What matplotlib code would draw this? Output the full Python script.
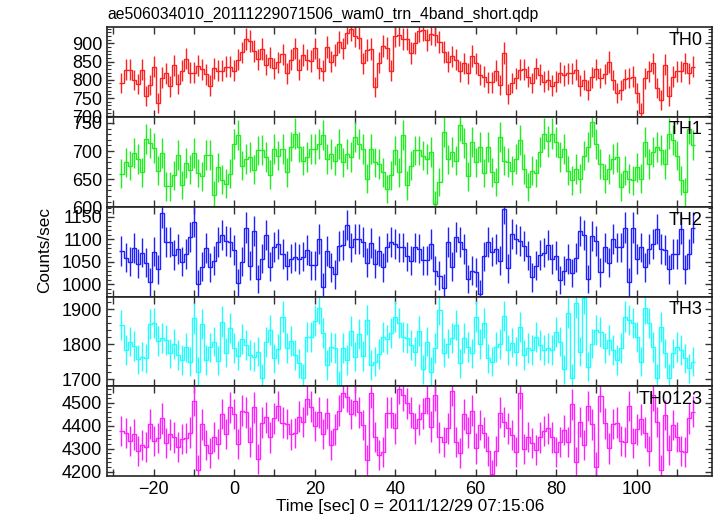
import numpy as np
import matplotlib
matplotlib.use("Agg")
import matplotlib.pyplot as plt
from matplotlib.ticker import MultipleLocator, AutoMinorLocator, FuncFormatter

plt.rcParams['font.family'] = ['Liberation Sans', 'DejaVu Sans']

# 1 s bins, centres from -28 to 114
t = np.arange(-28, 115)

th0 = [791, 827, 827, 800, 788, 827, 755, 786, 836, 736, 806, 818, 782, 840, 788, 825, 858, 820, 820, 839,
       829, 815, 784, 832, 825, 825, 836, 836, 825, 855, 875, 911, 907, 879, 856, 884, 841, 861, 832, 848,
       870, 818, 855, 886, 827, 868, 855, 852, 886, 832, 825, 891, 850, 868, 905, 886, 929, 938, 920, 914,
       845, 882, 884, 780, 847, 893, 888, 825, 920, 923, 911, 911, 873, 900, 934, 936, 909, 927, 923, 905,
       877, 850, 864, 855, 823, 845, 818, 865, 845, 814, 809, 793, 793, 825, 786, 873, 762, 791, 804, 827,
       829, 809, 791, 832, 814, 795, 800, 784, 795, 820, 813, 818, 818, 827, 784, 800, 773, 807, 829, 805,
       816, 849, 800, 764, 773, 802, 805, 809, 764, 709, 804, 823, 845, 777, 745, 841, 755, 809, 823, 823,
       845, 818, 836]

th1 = [660, 680, 674, 696, 686, 662, 722, 714, 706, 665, 696, 637, 637, 657, 693, 640, 679, 667, 696, 661,
       655, 693, 693, 621, 671, 649, 642, 660, 713, 728, 674, 686, 689, 667, 701, 702, 689, 658, 704, 692,
       704, 662, 708, 731, 707, 683, 689, 704, 704, 712, 729, 686, 695, 683, 713, 680, 695, 689, 725, 713,
       704, 651, 704, 680, 677, 662, 633, 657, 701, 662, 728, 639, 674, 701, 701, 692, 686, 698, 605, 645,
       734, 685, 698, 683, 746, 714, 655, 716, 680, 707, 661, 707, 662, 645, 725, 683, 680, 665, 686, 719,
       668, 636, 665, 661, 698, 731, 717, 731, 716, 689, 704, 665, 648, 668, 651, 692, 707, 752, 713, 677,
       651, 668, 686, 689, 636, 665, 651, 648, 671, 651, 716, 677, 698, 707, 702, 677, 731, 719, 692, 648,
       627, 740, 710]

th2 = [1074, 1059, 1050, 1080, 1045, 1070, 1048, 1005, 1072, 1033, 1159, 1094, 1093, 1065, 1078, 1050, 1067,
       1104, 1139, 1000, 1039, 1080, 1037, 1052, 1094, 1109, 1096, 1094, 1076, 1002, 1050, 1126, 1041, 1118,
       1011, 1057, 1109, 1039, 1083, 1090, 1067, 1041, 1057, 1061, 1056, 1061, 1076, 1042, 1042, 1100, 993,
       1074, 1037, 1022, 1085, 1087, 1131, 1082, 1100, 1100, 1093, 1048, 1091, 1045, 1074, 1037, 1082, 1093,
       1090, 1082, 1082, 1062, 1052, 1082, 1079, 1053, 1053, 1089, 1030, 1019, 991, 1094, 1039, 1104, 1094,
       1078, 1011, 1030, 1026, 978, 1062, 1094, 1072, 1078, 1052, 1168, 1035, 1111, 1100, 1096, 1085, 1063,
       1015, 1041, 1065, 1070, 1087, 1056, 1063, 1009, 1030, 1056, 1025, 1059, 1118, 1109, 1011, 1107, 1096,
       1026, 1082, 1048, 1101, 1082, 1082, 1126, 1004, 1126, 1056, 1082, 1037, 1078, 1089, 1122, 1078, 1076,
       1033, 1067, 1067, 1122, 1033, 1067, 1126]

th3 = [1855, 1784, 1808, 1795, 1757, 1765, 1760, 1858, 1860, 1810, 1819, 1812, 1774, 1801, 1770, 1755, 1791,
       1750, 1874, 1722, 1857, 1755, 1791, 1808, 1753, 1865, 1776, 1846, 1789, 1768, 1815, 1798, 1770, 1765,
       1779, 1703, 1806, 1841, 1760, 1786, 1879, 1789, 1810, 1770, 1746, 1703, 1822, 1822, 1868, 1903, 1831,
       1741, 1793, 1790, 1684, 1789, 1755, 1839, 1765, 1829, 1767, 1870, 1741, 1750, 1772, 1822, 1814, 1831,
       1879, 1860, 1822, 1817, 1798, 1779, 1839, 1729, 1808, 1722, 1789, 1898, 1776, 1802, 1817, 1855, 1746,
       1817, 1793, 1774, 1879, 1801, 1860, 1760, 1750, 1793, 1801, 1881, 1784, 1805, 1779, 1850, 1770, 1789,
       1784, 1822, 1798, 1784, 1789, 1784, 1836, 1808, 1729, 1889, 1703, 1919, 1779, 1931, 1736, 1802, 1841,
       1836, 1789, 1812, 1784, 1755, 1789, 1879, 1870, 1860, 1822, 1750, 1903, 1860, 1793, 1703, 1850, 1774,
       1703, 1774, 1793, 1784, 1760, 1731, 1750]

th0123 = [4377, 4367, 4333, 4362, 4290, 4316, 4309, 4407, 4333, 4345, 4432, 4326, 4362, 4349, 4306, 4342,
          4345, 4370, 4509, 4207, 4406, 4316, 4280, 4352, 4320, 4451, 4364, 4480, 4451, 4319, 4465, 4458,
          4328, 4480, 4254, 4413, 4436, 4349, 4432, 4486, 4413, 4407, 4362, 4367, 4439, 4417, 4516, 4483,
          4399, 4458, 4364, 4454, 4316, 4384, 4465, 4543, 4526, 4451, 4509, 4458, 4403, 4251, 4543, 4352,
          4272, 4287, 4457, 4457, 4388, 4562, 4533, 4497, 4457, 4388, 4428, 4454, 4519, 4396, 4533, 4349,
          4330, 4388, 4552, 4330, 4283, 4449, 4370, 4465, 4301, 4403, 4370, 4291, 4188, 4291, 4457, 4417,
          4388, 4359, 4287, 4541, 4297, 4352, 4326, 4294, 4349, 4378, 4388, 4349, 4287, 4330, 4381, 4330,
          4494, 4243, 4417, 4316, 4486, 4406, 4219, 4529, 4410, 4301, 4407, 4413, 4335, 4330, 4486, 4323,
          4384, 4428, 4370, 4291, 4533, 4417, 4207, 4446, 4294, 4403, 4352, 4291, 4287, 4432, 4461]

series = [th0, th1, th2, th3, th0123]
labels = ['TH0', 'TH1', 'TH2', 'TH3', 'TH0123']
colors = ['#ff2020', '#20ee20', '#2020ff', '#20ffff', '#ff20ff']
ylims = [(699, 944), (600, 761), (972, 1171), (1681, 1936), (4181, 4573)]
ymajor = [50, 50, 50, 100, 100]

W, H = 717, 516
fig = plt.figure(figsize=(W / 100, H / 100), dpi=100)
tops = [27.3, 116.7, 207.3, 296.7, 386.0, 476.0]
x0, x1 = 107, 712

axes = []
for i in range(5):
    ax = fig.add_axes([x0 / W, 1 - tops[i + 1] / H, (x1 - x0) / W, (tops[i + 1] - tops[i]) / H])
    v = np.array(series[i], dtype=float)
    err = np.sqrt(v)
    edges = np.append(t - 0.5, t[-1] + 0.5)
    ax.stairs(v, edges, color=colors[i], lw=1.0, baseline=None)
    ax.vlines(t, v - err, v + err, color=colors[i], lw=1.0)
    ax.set_xlim(-31.6, 118.7)
    ax.set_ylim(*ylims[i])
    ax.xaxis.set_major_locator(MultipleLocator(10))
    ax.yaxis.set_major_locator(MultipleLocator(ymajor[i]))
    ax.yaxis.set_minor_locator(AutoMinorLocator(5))
    ax.tick_params(which='both', direction='in', top=True, right=True, color='#333333')
    ax.tick_params(which='major', length=5, width=1.0, labelsize=13)
    ax.tick_params(which='minor', length=3, width=0.8)
    for s in ax.spines.values():
        s.set_linewidth(1.2)
        s.set_color('#222222')
    ax.text(0.985, 0.95, labels[i], transform=ax.transAxes, ha='right', va='top', fontsize=13)
    if i < 4:
        ax.tick_params(labelbottom=False)
    else:
        ax.xaxis.set_major_formatter(FuncFormatter(
            lambda x, p: ('\u2212%d' % -x if x < 0 else '%d' % x) if int(round(x)) % 20 == 0 else ''))
    axes.append(ax)

fig.text(x0 / W, 1 - 14 / H, 'ae506034010_20111229071506_wam0_trn_4band_short.qdp',
         ha='left', va='center', fontsize=11.3)
fig.text(410 / W, 1 - 507 / H, 'Time [sec] 0 = 2011/12/29 07:15:06', ha='center', va='center', fontsize=12.3)
fig.text(45 / W, 1 - 250 / H, 'Counts/sec', ha='center', va='center', rotation=90, fontsize=12.3)

fig.savefig('out.png', dpi=100)
